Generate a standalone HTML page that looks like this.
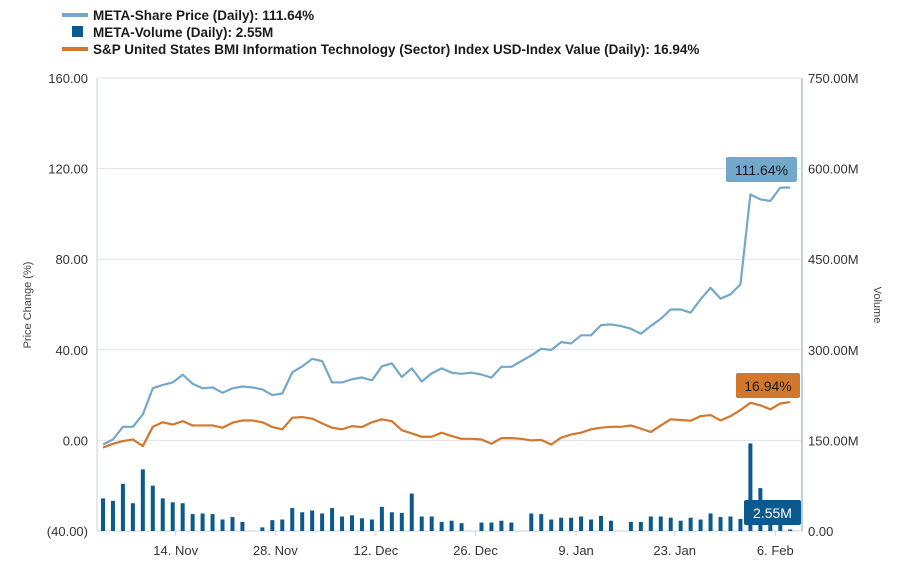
<!DOCTYPE html>
<html><head><meta charset="utf-8"><style>
body{margin:0;background:#fff;}
svg{display:block;font-family:"Liberation Sans",sans-serif;}
</style></head><body>
<svg id="chart" width="907" height="579">
<g font-size="13.5" font-weight="bold" fill="#1a1a1a">
 <g><rect x="62" y="13" width="26" height="4" fill="#74a8cb"/><text x="93" y="20">META-Share Price (Daily): 111.64%</text></g>
 <g><rect x="72" y="26" width="11" height="11" fill="#0b5a8f"/><text x="93" y="37">META-Volume (Daily): 2.55M</text></g>
 <g><rect x="62" y="47" width="26" height="4" fill="#d2772b"/><text x="93" y="54">S&amp;P United States BMI Information Technology (Sector) Index USD-Index Value (Daily): 16.94%</text></g>
</g>
<g id="grid"></g>
<g id="axes"></g>
<g id="bars"></g>
<g id="lines"></g>
<text x="31" y="305" transform="rotate(-90 31 305)" text-anchor="middle" font-size="11" fill="#444">Price Change (%)</text>
<text x="874" y="305" transform="rotate(90 874 305)" text-anchor="middle" font-size="11" fill="#444">Volume</text>
<g><rect x="726" y="157" width="71" height="25" rx="2" fill="#74a8cb"/><text x="761.5" y="175" text-anchor="middle" font-size="14" fill="#1a1a1a">111.64%</text></g>
<g><rect x="736" y="373" width="64" height="25" rx="2" fill="#d2772b"/><text x="768" y="391" text-anchor="middle" font-size="14" fill="#1a1a1a">16.94%</text></g>
<g><rect x="744" y="500" width="57" height="25" rx="2" fill="#0b5a8f"/><text x="772.5" y="518" text-anchor="middle" font-size="14" fill="#fff">2.55M</text></g>
</svg>
<script>
const priceValues=[-1.8,0.4,6,6,11.5,23,24.5,25.6,29,25,23,23.4,21,23,23.8,23.4,22.5,20,20.7,30,32.7,36,35,25.6,25.6,27,27.8,26.5,32.7,34,28,31.8,26,29.6,31.8,29.9,29.4,29.9,29.1,27.7,32.5,32.5,35,37.5,40.5,39.9,43.4,42.8,46.4,46.4,50.9,51.2,50.5,49.3,47.1,50.5,53.7,57.8,57.8,56.4,62.3,67.4,62.6,64.5,68.9,108.6,106.4,105.7,111.6,111.64];
const indexValues=[-3.2,-1.5,-0.3,0.4,-2.5,6,8,7,8.5,6.6,6.6,6.6,5.6,7.8,8.8,8.8,8,5.9,4.9,10,10.3,9.6,7.5,5.6,4.9,6.3,5.9,8,9.3,8.5,4.5,3.1,1.6,1.6,3.4,1.9,0.7,0.7,0.4,-1.5,1,1,0.7,0,0.2,-1.8,1.2,2.6,3.4,4.9,5.6,6,6,6.6,5.2,3.7,6.6,9.3,9,8.7,10.7,11.2,8.8,10.7,13.4,16.6,15.5,13.7,16.3,16.94];
const volumeValues=[54,50,78,46,102,75,54,47.5,46,28,29,28,19,23,15,0,6,18,19,38,31,34,29,38,24,26,21,19,40,31,30,62,24,24,15,17,13,0,14,14,17,14,0,29,28,19,22,22,24,19,25,17,0,15,15,24,24,22,17,22,19,29,23,24,20,145,71,20,20,2.55];
const leftTicks=[160,120,80,40,0,-40];
const leftTickLabels=["160.00","120.00","80.00","40.00","0.00","(40.00)"];
const rightTicks=[750,600,450,300,150,0];
const rightTickLabels=["750.00M","600.00M","450.00M","300.00M","150.00M","0.00"];
const dateTickIdx=[7.3,17.3,27.4,37.4,47.5,57.4,67.5];
const dateTickLabels=["14. Nov","28. Nov","12. Dec","26. Dec","9. Jan","23. Jan","6. Feb"];

const NS="http://www.w3.org/2000/svg";
const X0=103,DX=9.96,TOP=78,BOT=531;
const xs=i=>X0+i*DX;
const yL=v=>BOT-(v+40)/200*(BOT-TOP);
const yR=v=>BOT-v/750*(BOT-TOP);
function mk(tag,attrs,parent){const e=document.createElementNS(NS,tag);for(const k in attrs)e.setAttribute(k,attrs[k]);parent.appendChild(e);return e;}
const grid=document.getElementById('grid'),axes=document.getElementById('axes'),bars=document.getElementById('bars'),lines=document.getElementById('lines');
leftTicks.forEach((v,i)=>{
 const y=yL(v);
 const g=mk('line',{x1:97,x2:802,y1:y,y2:y,stroke:'#dfe3ea','stroke-width':1},grid);
 
 
 const t=mk('text',{x:88,y:y+5,'text-anchor':'end','font-size':13,fill:'#333'},axes);
 t.textContent=leftTickLabels[i];
 
 
});
rightTicks.forEach((v,i)=>{
 const t=mk('text',{x:808,y:yR(v)+5,'font-size':13,fill:'#333'},axes);
 t.textContent=rightTickLabels[i];
 
 
});
const la=mk('line',{x1:97,x2:97,y1:TOP,y2:BOT,stroke:'#c9d3e0'},axes);


const ra=mk('line',{x1:802,x2:802,y1:TOP,y2:BOT,stroke:'#bcd0e2','stroke-width':2},axes);


const xa=mk('line',{x1:97,x2:802,y1:BOT,y2:BOT,stroke:'#c9d3e0'},axes);


dateTickIdx.forEach((d,i)=>{
 const x=xs(d);
 mk('line',{x1:x,x2:x,y1:BOT,y2:BOT+5,stroke:'#c9d3e0'},axes);
 const t=mk('text',{x:x,y:555,'text-anchor':'middle','font-size':13,fill:'#333'},axes);
 t.textContent=dateTickLabels[i];
 
 
});
volumeValues.forEach((v,i)=>{
 if(v<=0)return;
 const y=yR(v);
 const r=mk('rect',{x:xs(i)-2,y:y,width:4,height:BOT-y,fill:'#0b5a8f'},bars);
 
 
});
function line(vals,color,name){
 const p=mk('polyline',{points:vals.map((v,i)=>xs(i)+','+yL(v)).join(' '),fill:'none',stroke:color,'stroke-width':2.2,'stroke-linejoin':'round'},lines);
 
 
}
line(indexValues,'#d2772b','index-line');
line(priceValues,'#74a8cb','price-line');
</script>
</body></html>
